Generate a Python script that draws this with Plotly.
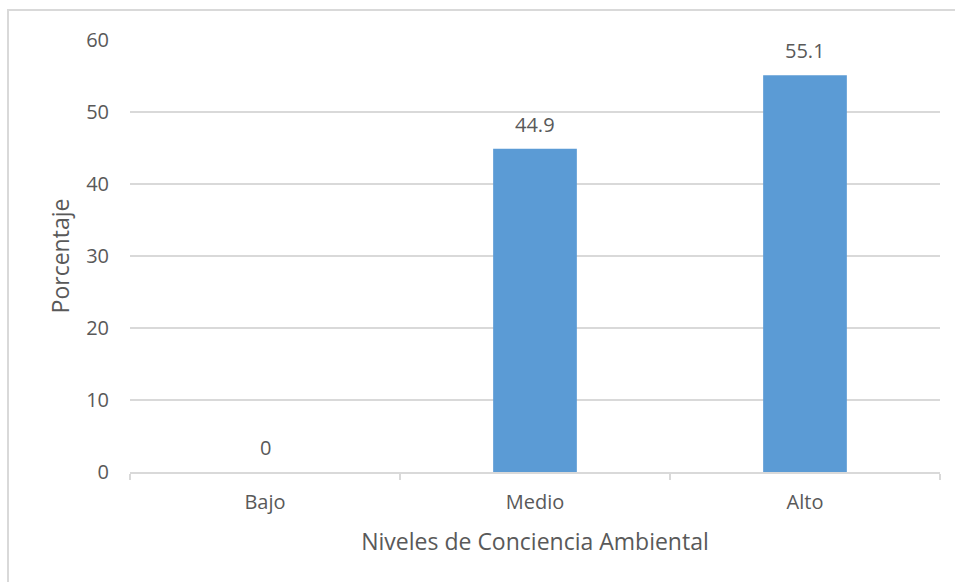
import plotly.graph_objects as go

categories = ["Bajo", "Medio", "Alto"]
values = [0, 44.9, 55.1]
labels = ["0", "44.9", "55.1"]
y_ticks = [0, 10, 20, 30, 40, 50, 60]

font_family = "'Open Sans', sans-serif"
text_color = "#595959"
grid_color = "#D9D9D9"

fig = go.Figure()
fig.add_trace(go.Bar(
    x=categories, y=values,
    marker=dict(color="#5B9BD5", line=dict(width=0)),
    width=0.31,
    hoverinfo="skip",
))

for c, v, t in zip(categories, values, labels):
    fig.add_annotation(x=c, y=v, text=t, showarrow=False, yanchor="bottom",
                       yshift=9, font=dict(size=20, color=text_color, family=font_family))

fig.add_shape(type="rect", xref="paper", yref="paper",
              x0=(8 - 130) / 810, x1=1.2, y0=-0.5, y1=1 + 30 / 432,
              line=dict(color="#D9D9D9", width=2), layer="below")

fig.update_layout(
    width=955, height=582,
    margin=dict(l=130, r=15, t=40, b=110),
    paper_bgcolor="white", plot_bgcolor="white",
    showlegend=False,
    font=dict(family=font_family, color=text_color, size=20),
    xaxis=dict(
        title=dict(text="Niveles de Conciencia Ambiental", font=dict(size=23, color=text_color), standoff=20),
        showline=True, linecolor=grid_color, linewidth=2,
        ticks="outside", tickson="boundaries", ticklen=6, tickcolor=grid_color, tickwidth=2,
        showgrid=False, tickfont=dict(size=20, color=text_color), ticklabelstandoff=11,
    ),
    yaxis=dict(
        title=dict(text="Porcentaje", font=dict(size=23, color=text_color), standoff=10),
        range=[0, 60], tickvals=y_ticks, ticktext=[str(v) for v in y_ticks],
        showgrid=True, gridcolor=grid_color, gridwidth=1.5,
        zeroline=False, showline=False, ticks="", ticklabelstandoff=20,
        tickfont=dict(size=20, color=text_color),
    ),
)

fig.write_html("out.html")
